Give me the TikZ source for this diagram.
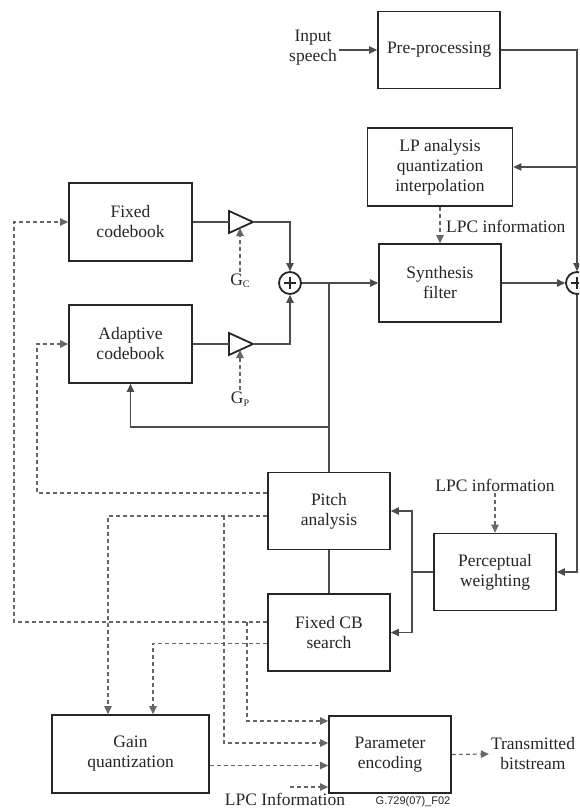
\documentclass[tikz,border=0pt]{standalone}
\usepackage{fontspec}
\setmainfont{Liberation Serif}
\newfontfamily\figidfont{Liberation Sans}
\usetikzlibrary{arrows.meta}

\definecolor{boxc}{gray}{0.15}
\definecolor{wirec}{gray}{0.30}
\definecolor{dashc}{gray}{0.40}
\definecolor{txt}{gray}{0.15}

\tikzset{
  block/.style={draw=boxc, line width=1.8pt, fill=white, align=center,
    minimum width=122pt, minimum height=77pt, inner sep=0pt,
    font=\fontsize{17.5}{20}\selectfont, text=txt},
  lbl/.style={align=center, font=\fontsize{17.5}{20}\selectfont, text=txt, inner sep=2pt},
  wire/.style={draw=wirec, line width=1.1pt},
  flow/.style={wire, -{Triangle[length=8pt,width=7.5pt]}},
  ctl/.style={draw=dashc, line width=1.1pt, dash pattern=on 4pt off 3pt},
  ctlarrow/.style={ctl, -{Triangle[length=8pt,width=7.5pt]}},
  sumnode/.style={draw=boxc, line width=1.8pt, fill=white, circle,
    minimum size=22pt, inner sep=0pt},
  plusbar/.style={draw=boxc, line width=2.8pt},
  amp/.style={draw=boxc, line width=1.8pt, fill=white, line join=miter}
}

\begin{document}
\begin{tikzpicture}[x=1pt, y=-1pt]
\useasboundingbox (0,0) rectangle (579,810);
\clip (0,0) rectangle (579,810);

% processing blocks
\node[block] (pre)   at (439,50)    {Pre-processing};
\node[block, minimum width=145pt, minimum height=78pt] (lp) at (440,167)
  {LP analysis\\quantization\\interpolation};
\node[block, minimum height=78pt] (syn) at (440,283) {Synthesis\\filter};
\node[block, minimum width=123pt, minimum height=78pt] (fcb) at (130.5,222) {Fixed\\codebook};
\node[block, minimum width=123pt, minimum height=78pt] (acb) at (130.5,344) {Adaptive\\codebook};
\node[block] (pitch) at (329,511)   {Pitch\\analysis};
\node[block] (fcs)   at (329,632.5) {Fixed CB\\search};
\node[block] (pw)    at (495,572)   {Perceptual\\weighting};
\node[block, minimum width=157pt, minimum height=78pt] (gq) at (130.5,754) {Gain\\quantization};
\node[block] (pe)    at (390,754.5) {Parameter\\encoding};

% adders
\node[sumnode] (sum1) at (290,283) {};
\draw[plusbar] (sum1) +(-6,0) -- +(6,0) (sum1) +(0,-6) -- +(0,6);
\node[sumnode] (sum2) at (577,283) {};
\draw[plusbar] (sum2) +(-6,0) -- +(6,0) (sum2) +(0,-6) -- +(0,6);

% gain amplifiers
\coordinate (ampcin) at (229,222);
\coordinate (ampcout) at (253,222);
\coordinate (ampcgain) at (240,228);
\draw[amp] (229,211) -- (ampcout) -- (229,233) -- cycle;
\coordinate (amppin) at (229,344);
\coordinate (amppout) at (253,344);
\coordinate (amppgain) at (240,350);
\draw[amp] (229,333) -- (amppout) -- (229,355) -- cycle;

% labels
\node[lbl] (inp) at (313,48) {Input\\speech};
\node[lbl, anchor=west, inner sep=0pt] (lpc1) at (446,226) {LPC information};
\node[lbl] (lpc2) at (495,485) {LPC information};
\node[lbl, inner sep=0pt] (lpc3) at (285,799) {LPC Information};
\node[lbl] (out) at (533,754) {Transmitted\\bitstream};
\node[lbl] (gc) at (240,281) {G{\fontsize{10}{10}\selectfont\raisebox{-2.5pt}{C}}};
\node[lbl] (gp) at (240,399) {G{\fontsize{10}{10}\selectfont\raisebox{-2.5pt}{P}}};
\node[font=\figidfont\fontsize{11}{11}\selectfont, text=txt, inner sep=0pt] (figid)
  at (413,802) {G.729(07)\_F02};

% signal path
\draw[flow] (inp.east |- pre.west) -- (pre.west);
\draw[flow] (pre.east) -| (sum2.north);
\coordinate (lptap) at (577,167);
\draw[flow] (lptap) -- (lp.east);
\draw[flow] (syn.east) -- (sum2.west);
\draw[flow] (sum2.south) |- (pw.east);

\draw[wire] (fcb.east) -- (ampcin);
\draw[wire] (acb.east) -- (amppin);
\draw[flow] (ampcout) -| (sum1.north);
\draw[flow] (amppout) -| (sum1.south);
\draw[flow] (sum1.east) -- (syn.west);

\coordinate (exc) at (329,283);
\coordinate (fbk) at (329,427);
\draw[wire] (exc) -- (pitch.north);
\draw[flow] (fbk) -| (acb.south);
\draw[wire] (pitch.south) -- (fcs.north);

\coordinate (pwj) at (412,572);
\draw[wire] (pw.west) -- (pwj);
\draw[flow] (pwj) |- (pitch.east);
\draw[flow] (pwj) |- (fcs.east);

% control / parameter paths
\draw[ctlarrow] (lp.south) -- (syn.north);
\draw[ctlarrow] (lpc2.south) -- (pw.north);
\draw[ctlarrow] (gc.north) -- (ampcgain);
\draw[ctlarrow] (gp.north) -- (amppgain);

\draw[ctlarrow] (pitch.west |- 0,493) -| (37,344) -- (acb.west);
\draw[ctlarrow] (pitch.west |- 0,516) -| (gq.north -| 108,0);
\draw[ctlarrow] (224,516) |- (pe.west |- 0,743);
\draw[ctlarrow] (fcs.west |- 0,622) -| (14,222) -- (fcb.west);
\draw[ctlarrow] (247,622) |- (pe.west |- 0,721);
\draw[ctlarrow] (fcs.west |- 0,643.5) -| (gq.north -| 153,0);
\draw[ctlarrow] (gq.east |- 0,765.5) -- (pe.west |- 0,765.5);
\coordinate (lpcin) at (290,787);
\draw[ctlarrow] (lpcin) -- (pe.west |- lpcin);
\draw[ctlarrow] (pe.east) -- (out.west);
\end{tikzpicture}
\end{document}
